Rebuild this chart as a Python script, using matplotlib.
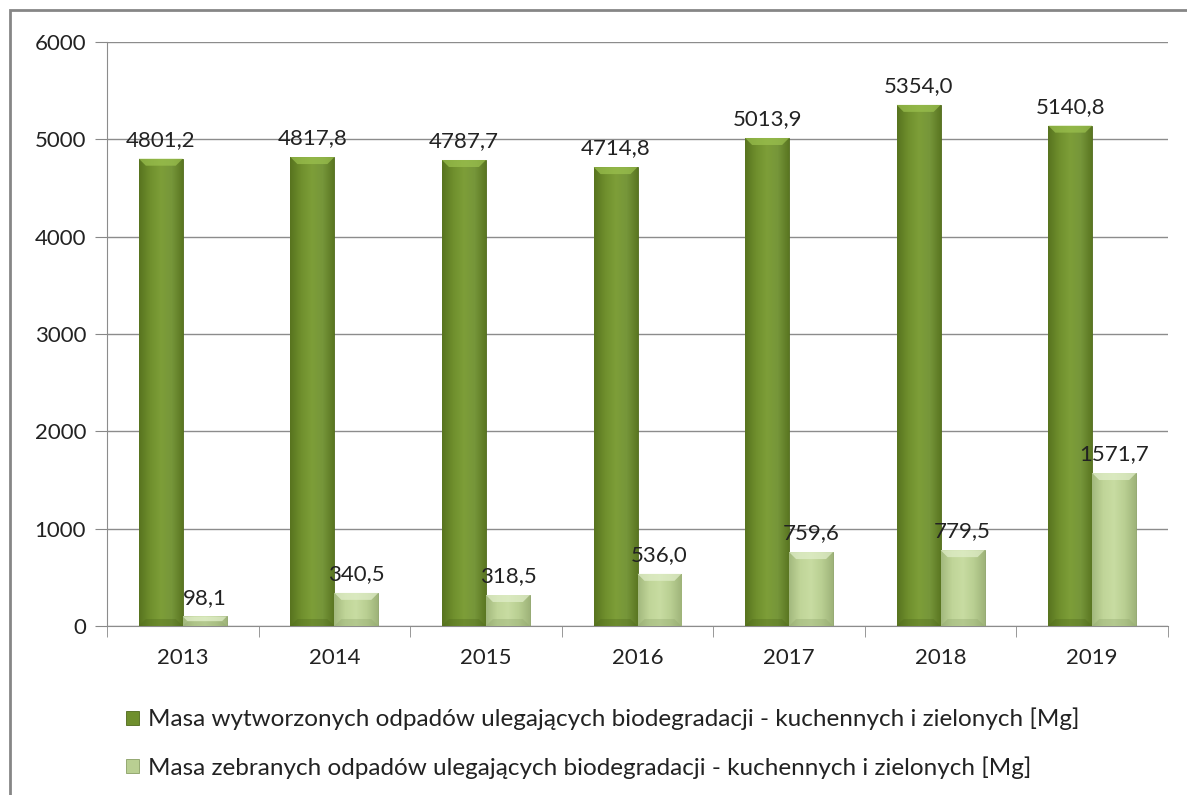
import numpy as np
import matplotlib
matplotlib.use("Agg")
import matplotlib.pyplot as plt
from matplotlib.patches import Rectangle, Polygon
from matplotlib.colors import LinearSegmentedColormap

plt.rcParams["font.family"] = ["Lato", "DejaVu Sans"]

years = ["2013", "2014", "2015", "2016", "2017", "2018", "2019"]
wytworzone = [4801.2, 4817.8, 4787.7, 4714.8, 5013.9, 5354.0, 5140.8]
zebrane = [98.1, 340.5, 318.5, 536.0, 759.6, 779.5, 1571.7]
labels = ["Masa wytworzonych odpadów ulegających biodegradacji - kuchennych i zielonych [Mg]",
          "Masa zebranych odpadów ulegających biodegradacji - kuchennych i zielonych [Mg]"]

# colour stops: left -> right across the bar
DARK = ["#58741f", "#6f8f2d", "#7d9e38", "#76963a", "#5b7722"]
LIGHT = ["#a3b97e", "#c0d598", "#c8dca2", "#b9cf92", "#9fb47a"]

W, H = 1187, 795
fig = plt.figure(figsize=(W / 100, H / 100), dpi=100)
ax = fig.add_axes([107 / W, 1 - 626 / H, (1168 - 107) / W, (626 - 42) / H])

x = np.arange(len(years))
bw = 0.29
PX_X = 1 / 151.6          # data units per pixel, x
PX_Y = 6000 / 584         # data units per pixel, y


def style_bars(bars, colors, top, bottom):
    cmap = LinearSegmentedColormap.from_list("g", colors)
    grad = np.linspace(0, 1, 64).reshape(1, -1)
    for b in bars:
        b.set_facecolor(colors[2])
        x0, y0 = b.get_x(), b.get_y()
        x1, y1 = x0 + b.get_width(), y0 + b.get_height()
        im = ax.imshow(grad, cmap=cmap, aspect="auto", zorder=3,
                       extent=(x0, x1, y0, y1))
        im.set_clip_path(b)
        by = min(7 * PX_Y, (y1 - y0) / 2)
        bx = min(7 * PX_X, by / PX_Y * PX_X)
        ax.add_patch(Polygon([(x0, y1), (x1, y1), (x1 - bx, y1 - by), (x0 + bx, y1 - by)],
                             closed=True, facecolor=top, edgecolor="none", alpha=0.7, zorder=4))
        ax.add_patch(Polygon([(x0, y0), (x1, y0), (x1 - bx, y0 + by), (x0 + bx, y0 + by)],
                             closed=True, facecolor=bottom, edgecolor="none", alpha=0.35, zorder=4))


b1 = ax.bar(x - bw / 2, wytworzone, bw, color=DARK[2], edgecolor="#4e681b",
            linewidth=0.6, zorder=2, label=labels[0])
b2 = ax.bar(x + bw / 2, zebrane, bw, color=LIGHT[2], edgecolor="#899f64",
            linewidth=0.6, zorder=2, label=labels[1])
style_bars(b1, DARK, "#9cc24f", "#4f6a1c")
style_bars(b2, LIGHT, "#e2efcc", "#8fa56c")

for xi, v in zip(x, wytworzone):
    ax.text(xi - bw / 2, v + 90, f"{v:.1f}".replace(".", ","),
            ha="center", va="bottom", fontsize=16, color="#222222", zorder=5)
for xi, v in zip(x, zebrane):
    ax.text(xi + bw / 2, v + 90, f"{v:.1f}".replace(".", ","),
            ha="center", va="bottom", fontsize=16, color="#222222", zorder=5)

ax.set_xlim(-0.5, len(years) - 0.5)
ax.set_ylim(0, 6000)
ax.set_yticks(range(0, 6001, 1000))
ax.set_yticklabels([str(v) for v in range(0, 6001, 1000)], fontsize=16, color="#222222")
ax.set_xticks(x)
ax.set_xticklabels(years, fontsize=16, color="#222222")
ax.tick_params(axis="x", length=0, pad=16)
ax.set_xticks(np.arange(-0.5, len(years), 1), minor=True)
ax.tick_params(axis="x", which="minor", length=8, color="#888888")
ax.tick_params(axis="y", length=9, color="#888888", pad=6)
ax.yaxis.grid(True, color="#8c8c8c", linewidth=1)
ax.set_axisbelow(True)
for s in ["top", "right"]:
    ax.spines[s].set_visible(False)
for s in ["left", "bottom"]:
    ax.spines[s].set_color("#8c8c8c")

h = [Rectangle((0, 0), 1, 1, facecolor="#6f8f2d", edgecolor="#4e681b", linewidth=0.6),
     Rectangle((0, 0), 1, 1, facecolor="#b9cf92", edgecolor="#899f64", linewidth=0.6)]
fig.legend(h, labels, loc="upper left", bbox_to_anchor=(104 / W, 1 - 686 / H),
           frameon=False, fontsize=17.5, handlelength=0.55, handleheight=0.55,
           handletextpad=0.35, labelspacing=1.05, labelcolor="#222222")

fig.patches.append(Rectangle((10 / W, -0.02), 1.05, 1 - 10 / H + 0.02,
                             transform=fig.transFigure, fill=False,
                             edgecolor="#868686", linewidth=2))

fig.savefig("out.png", dpi=100)
